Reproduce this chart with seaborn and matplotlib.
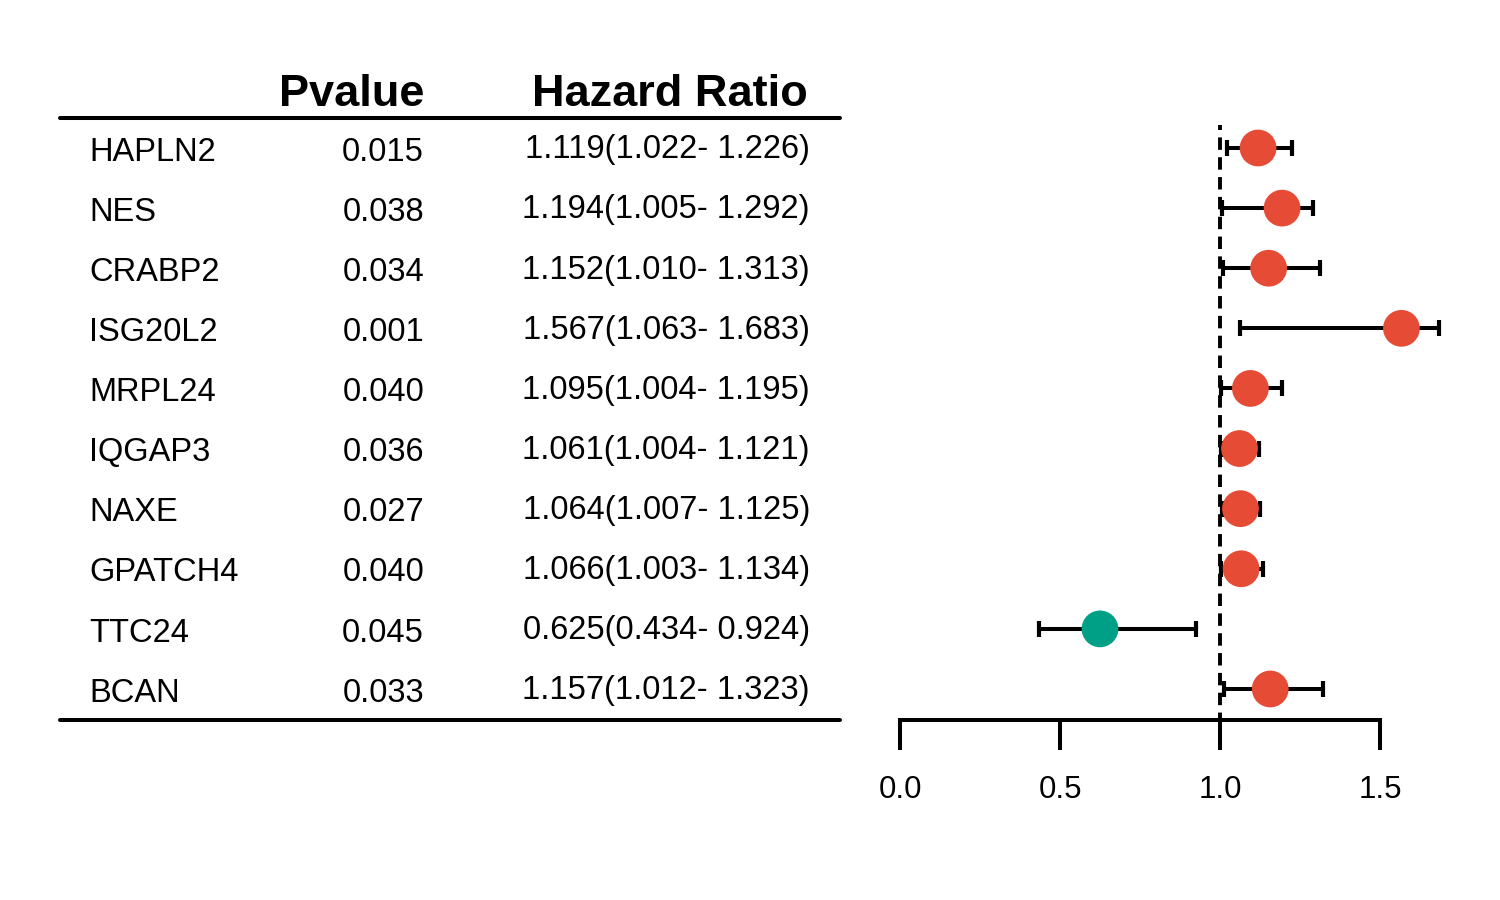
import numpy as np
import pandas as pd
import matplotlib
matplotlib.use("Agg")
import matplotlib.pyplot as plt
import matplotlib.transforms as mtransforms
from matplotlib.lines import Line2D
import seaborn as sns

genes = ["HAPLN2", "NES", "CRABP2", "ISG20L2", "MRPL24", "IQGAP3", "NAXE", "GPATCH4", "TTC24", "BCAN"]
pvalues = ["0.015", "0.038", "0.034", "0.001", "0.040", "0.036", "0.027", "0.040", "0.045", "0.033"]
hr = [1.119, 1.194, 1.152, 1.567, 1.095, 1.061, 1.064, 1.066, 0.625, 1.157]
hr_low = [1.022, 1.005, 1.010, 1.063, 1.004, 1.004, 1.007, 1.003, 0.434, 1.012]
hr_high = [1.226, 1.292, 1.313, 1.683, 1.195, 1.121, 1.125, 1.134, 0.924, 1.323]
xticks = [0.0, 0.5, 1.0, 1.5]
header_p = "Pvalue"
header_hr = "Hazard Ratio"

sns.set_theme(style="white")
plt.rcParams['font.family'] = ['Liberation Sans', 'DejaVu Sans']

df = pd.DataFrame({"gene": genes, "p": pvalues, "hr": hr, "lo": hr_low, "hi": hr_high})
df["row"] = np.arange(len(df))
df["risk"] = np.where(df["hr"] >= 1, "risk", "protective")

fig = plt.figure(figsize=(15, 9), dpi=100)
W, H = 1500.0, 900.0
ax = fig.add_axes([900 / W, 1 - 720 / H, 1.8 * 320 / W, (720 - 100) / H])

# reference line
ax.plot([1.0, 1.0], [9.6, -0.383], color="black", lw=2.8, linestyle=(0, (3.2, 1.9)), zorder=1)

# error bars
ax.errorbar(df["hr"], df["row"],
            xerr=[df["hr"] - df["lo"], df["hi"] - df["hr"]],
            fmt="none", ecolor="black", elinewidth=2.9, capsize=5.5, capthick=3.0, zorder=2)

sns.scatterplot(data=df, x="hr", y="row", hue="risk",
                palette={"risk": "#E64B35", "protective": "#00A087"},
                s=700, edgecolor="none", legend=False, ax=ax, zorder=3)

ax.set_xlim(0, 1.8)
ax.set_ylim(9.516, -0.7985)
ax.set_xticks(xticks)
ax.set_xticklabels([f"{t:.1f}" for t in xticks], fontsize=22.5)
ax.set_yticks([])
ax.set_xlabel("")
ax.set_ylabel("")
for s in ["top", "right", "left"]:
    ax.spines[s].set_visible(False)
ax.spines["bottom"].set_linewidth(2.9)
ax.spines["bottom"].set_color("black")
ax.spines["bottom"].set_bounds(0, 1.5)
ax.spines["bottom"].set_capstyle("projecting")
ax.tick_params(axis="x", direction="out", length=21.6, width=2.9, color="black",
               pad=18, labelcolor="black", bottom=True)
ax.patch.set_alpha(0)

# table
trans = mtransforms.blended_transform_factory(fig.transFigure, ax.transData)
for i in range(len(genes)):
    y = df["row"][i] + 0.07
    fig.text(89 / W, y, genes[i], transform=trans, ha="left", va="center", fontsize=23.5, color="black")
    fig.text(424 / W, y, pvalues[i], transform=trans, ha="right", va="center", fontsize=23.5, color="black")
    txt = f"{hr[i]:.3f}({hr_low[i]:.3f}- {hr_high[i]:.3f})"
    fig.text(810 / W, y - 0.04, txt, transform=trans, ha="right", va="center", fontsize=23.5, color="black")

fig.text(424 / W, 1 - 106 / H, header_p, ha="right", va="baseline", fontsize=32.5, fontweight="bold", color="black")
fig.text(808 / W, 1 - 106 / H, header_hr, ha="right", va="baseline", fontsize=32.5, fontweight="bold", color="black")

fig.add_artist(Line2D([60 / W, 840 / W], [1 - 118 / H, 1 - 118 / H], color="black", lw=2.9, transform=fig.transFigure))
fig.add_artist(Line2D([60 / W, 840 / W], [1 - 720 / H, 1 - 720 / H], color="black", lw=2.9, transform=fig.transFigure))

fig.savefig("out.png", dpi=100, facecolor="white")
